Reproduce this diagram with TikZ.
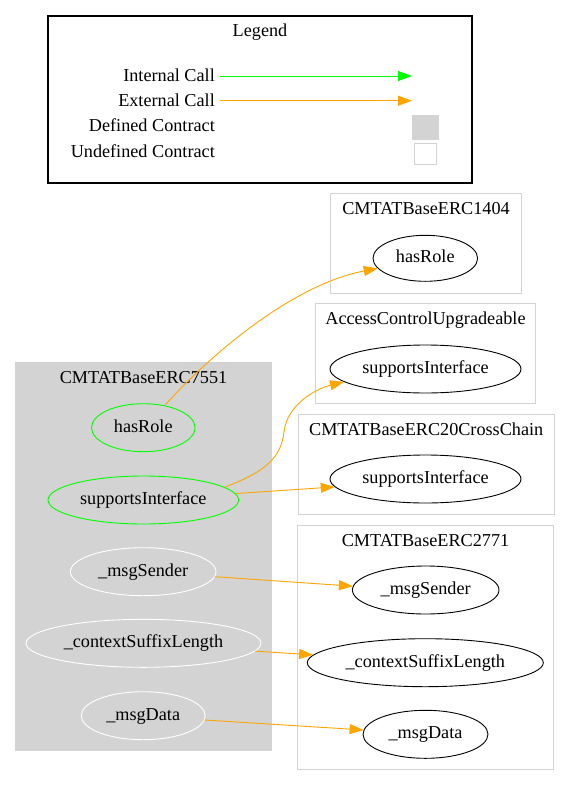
\documentclass[tikz,border=0pt]{standalone}
\usepackage{fontspec}
\setmainfont{Liberation Serif}
\usetikzlibrary{shapes.geometric,arrows.meta}
\definecolor{gvgreen}{HTML}{00FF00}
\definecolor{gvorange}{HTML}{FFA500}
\definecolor{gvgray}{HTML}{D3D3D3}
% zero-width label so the ellipse size comes only from minimum width/height
\newcommand\fnlabel[1]{\makebox[0pt]{\strut#1}}

\begin{document}
\begin{tikzpicture}[x=1pt,y=-1pt,
  font=\fontsize{18.2}{22}\selectfont,
  fn/.style={ellipse, inner sep=0pt, line width=0.9pt, minimum height=48pt},
  fnint/.style={fn, draw=gvgreen},
  fnplain/.style={fn, draw=white},
  fnext/.style={fn, draw=black},
  title/.style={anchor=base, inner sep=0pt},
  legendlbl/.style={anchor=base east, inner sep=0pt},
  defbox/.style={fill=gvgray, draw=gvgray, line width=0.9pt},
  undefbox/.style={fill=white, draw=gvgray, line width=0.9pt},
  intcall/.style={draw=gvgreen, line width=0.9pt, -{Triangle[length=14pt,width=10pt]}},
  extcall/.style={draw=gvorange, line width=0.9pt, -{Triangle[length=14pt,width=10pt]}},
]
\useasboundingbox (0,0) rectangle (569,785);
\fill[white] (0,0) rectangle (569,785);

% ---- legend ----
\draw[line width=1.2pt] (48,16) rectangle (472,183);
\node[title] (legtitle) at (260,36) {Legend};
\node[legendlbl] (lint) at (215,81.7) {Internal Call};
\node[legendlbl] (lext) at (215,106.7) {External Call};
\node[legendlbl] (ldef) at (215,131.7) {Defined Contract};
\node[legendlbl] (lund) at (215,157.7) {Undefined Contract};
\coordinate (lintA) at (220,76);
\coordinate (lintB) at (412,76);
\coordinate (lextA) at (220,100.7);
\coordinate (lextB) at (412,100.7);
\draw[intcall] (lintA) -- (lintB);
\draw[extcall] (lextA) -- (lextB);
\draw[defbox] (412.5,115.5) rectangle (438.5,139.5);
\draw[undefbox] (414.5,143) rectangle (436.5,164);

% ---- CMTATBaseERC7551 (defined) ----
\fill[gvgray] (15,362.3) rectangle (272,750.7);
\node[title] (t7551) at (143.5,383.3) {CMTATBaseERC7551};
\node[fnint, minimum width=103.6pt] (hr) at (143.3,427.7) {\fnlabel{hasRole}};
\node[fnint, minimum width=190.6pt] (si) at (143.3,500) {\fnlabel{supportsInterface}};
\node[fnplain, minimum width=145.6pt] (ms) at (143.2,571.7) {\fnlabel{\_msgSender}};
\node[fnplain, minimum width=235pt] (cs) at (143.5,643.3) {\fnlabel{\_contextSuffixLength}};
\node[fnplain, minimum width=124pt] (md) at (143.2,715.7) {\fnlabel{\_msgData}};

% ---- CMTATBaseERC1404 ----
\draw[undefbox] (330.7,193.3) rectangle (521.3,293.3);
\node[title] (t1404) at (426,214.3) {CMTATBaseERC1404};
\node[fnext, minimum width=104.6pt, minimum height=46pt] (hrB) at (425.3,258.3) {\fnlabel{hasRole}};

% ---- AccessControlUpgradeable ----
\draw[undefbox] (315.7,303.3) rectangle (535.3,403.3);
\node[title] (tacu) at (425.5,324) {AccessControlUpgradeable};
\node[fnext, minimum width=191pt] (siB) at (425.5,369) {\fnlabel{supportsInterface}};

% ---- CMTATBaseERC20CrossChain ----
\draw[undefbox] (298.3,414.3) rectangle (554,514);
\node[title] (tcc) at (426.2,435) {CMTATBaseERC20CrossChain};
\node[fnext, minimum width=191pt] (siC) at (425.5,479) {\fnlabel{supportsInterface}};

% ---- CMTATBaseERC2771 ----
\draw[undefbox] (297.7,525) rectangle (553.3,769);
\node[title] (t2771) at (425.5,546) {CMTATBaseERC2771};
\node[fnext, minimum width=146.6pt] (msB) at (425.7,590) {\fnlabel{\_msgSender}};
\node[fnext, minimum width=236pt] (csB) at (425.3,662.7) {\fnlabel{\_contextSuffixLength}};
\node[fnext, minimum width=125pt] (mdB) at (425.5,734.3) {\fnlabel{\_msgData}};

% ---- external calls ----
\draw[extcall] (hr.46) .. controls (205,360) and (290,285) .. (hrB.192);
\draw[extcall] (si.9) .. controls (265,472) and (281,458) .. (284,432)
                      .. controls (287,405) and (315,389) .. (siB.189);
\draw[extcall] (si.4) -- (siC.185);
\draw[extcall] (ms.-4) -- (msB.177);
\draw[extcall] (cs.-4.3) -- (csB.176.4);
\draw[extcall] (md.-4) -- (mdB.176.7);
\end{tikzpicture}
\end{document}
